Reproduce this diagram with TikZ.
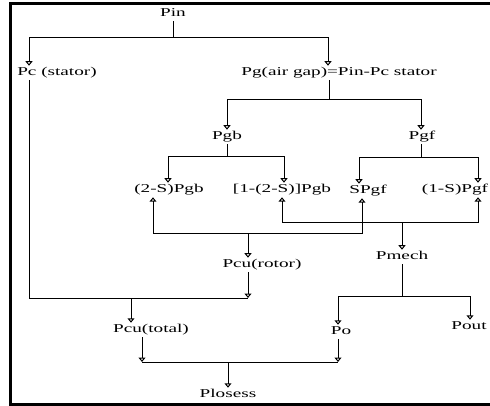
\documentclass[tikz,border=0pt]{standalone}
\usepackage{fontspec}
\setmainfont{Liberation Serif}[FakeStretch=1.6]
\usepackage{tikz}
\usetikzlibrary{arrows,arrows.meta,positioning,calc}

\begin{document}
\begin{tikzpicture}[x=1pt, y=-1pt, ->, >={Triangle[open,width=7pt,length=4.5pt]}, line width=1pt]
\tikzstyle{every node}=[font=\fontsize{12}{14}\selectfont, inner sep=1.5pt, text height=8pt, text depth=2.5pt]
\useasboundingbox (0,0) rectangle (490,406);
\draw[-, line width=2.4pt] (10.5,3.7) rectangle (520,404.5);

\node (pin)   at (173,14)  {Pin};
\node (pcs)   at (57,73)   {Pc (stator)};
\node (pg)    at (339,73)  {Pg(air gap)=Pin-Pc stator};
\node (pgb)   at (227,137) {Pgb};
\node (pgf)   at (422,137) {Pgf};
\node (b1)    at (169,190) {(2-S)Pgb};
\node (b2)    at (282,190) {[1-(2-S)]Pgb};
\node (f1)    at (368,191) {SPgf};
\node (f2)    at (455,190) {(1-S)Pgf};
\node (rotor) at (262,265) {Pcu(rotor)};
\node (mech)  at (402,257) {Pmech};
\node (total) at (151,330) {Pcu(total)};
\node (po)    at (341,332) {Po};
\node (pout)  at (469,327) {Pout};
\node (loss)  at (228,395) {Plosess};

\coordinate (j1)  at (173,38);
\coordinate (j2)  at (329,100);
\coordinate (j3)  at (227,157);
\coordinate (j4)  at (421,158);
\coordinate (j5)  at (248,234);
\coordinate (j6)  at (402,223);
\coordinate (j7)  at (248,298);
\coordinate (j8)  at (131,298);
\coordinate (j9)  at (142,362);
\coordinate (j10) at (338,362);
\coordinate (j11) at (402,296);

\draw[-] (pin) -- (j1);
\draw (j1) -| ([xshift=-28pt]pcs.north);
\draw (j1) -| ([xshift=-11pt]pg.north);

\draw[-] ([xshift=-10pt]pg.south) -- (j2);
\draw (j2) -| (pgb.north);
\draw (j2) -| ([xshift=-1pt]pgf.north);

\draw[-] (pgb) -- (j3);
\draw (j3) -| ([xshift=-1pt]b1.north);
\draw (j3) -| ([xshift=2pt]b2.north);

\draw[-] ([xshift=-1pt]pgf.south) -- (j4);
\draw (j4) -| ([xshift=-9pt]f1.north);
\draw (j4) -| ([xshift=23pt]f2.north);

\draw (j5) -| ([xshift=-16pt]b1.south);
\draw (j5) -| ([xshift=-6pt]f1.south);
\draw (j5) -- ([xshift=-14pt]rotor.north);

\draw (j6) -| (b2.south);
\draw (j6) -| ([xshift=23pt]f2.south);
\draw (j6) -- (mech.north);

\draw[-] ([xshift=-28pt]pcs.south) |- (j7);
\draw ([xshift=-14pt]rotor.south) -- (j7);
\draw (j8) -- ([xshift=-20pt]total.north);

\draw[-] (j9) -- (j10);
\draw ([xshift=-9pt]total.south) -- (j9);
\draw ([xshift=-3pt]po.south) -- (j10);
\draw (loss.north |- j9) -- (loss.north);

\draw[-] (mech) -- (j11);
\draw (j11) -| ([xshift=-3pt]po.north);
\draw (j11) -| ([xshift=1pt]pout.north);
\end{tikzpicture}
\end{document}
